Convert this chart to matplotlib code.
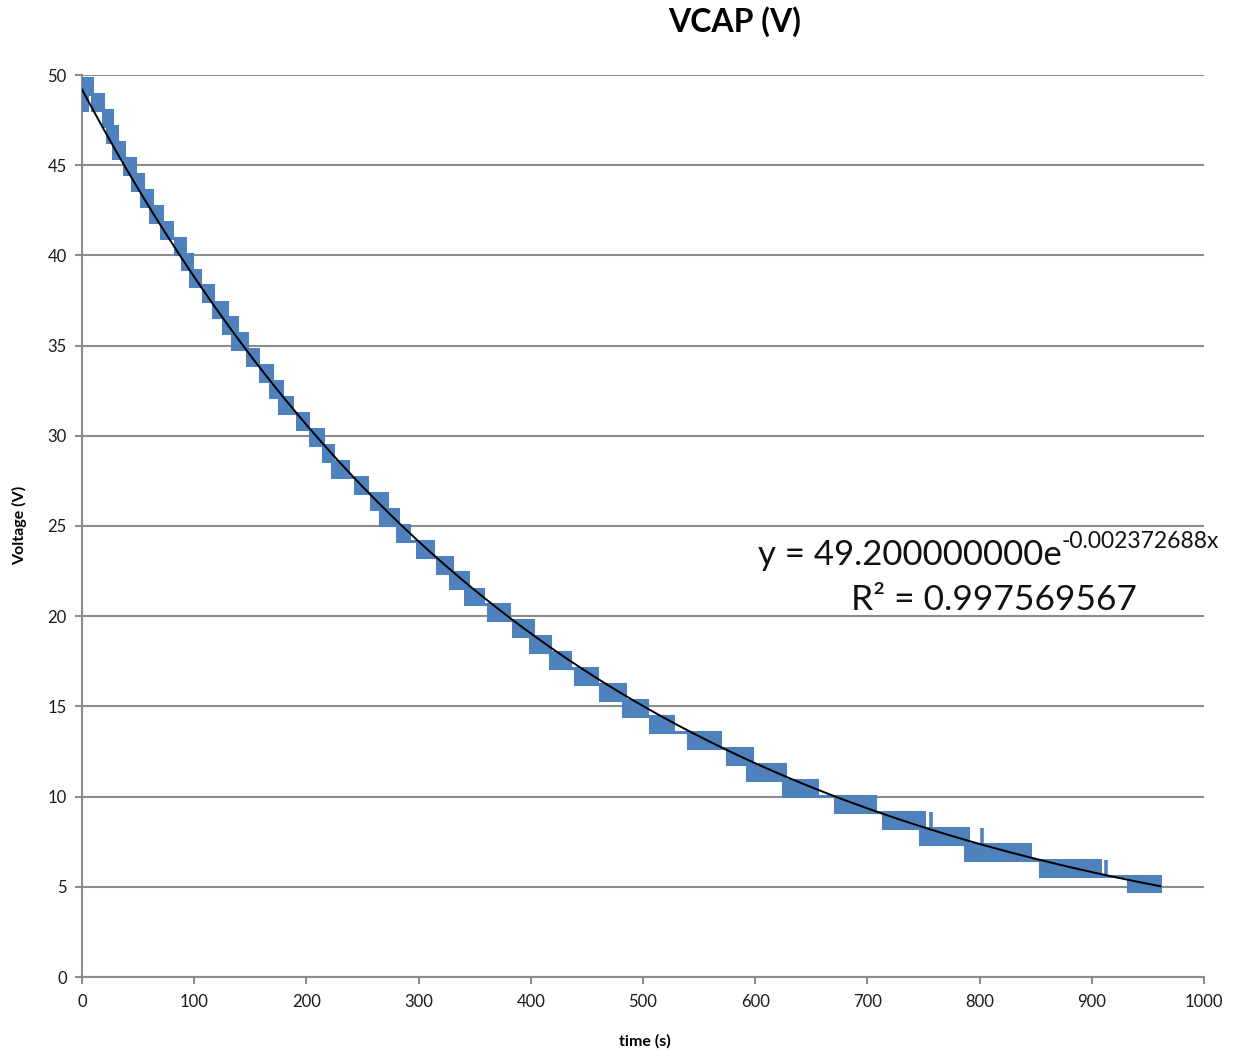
import numpy as np
import matplotlib
matplotlib.use("Agg")
import matplotlib.pyplot as plt

plt.rcParams['font.family'] = ['Lato', 'DejaVu Sans']

# 采样块：电容电压在相邻两个量化电平之间跳动 (开始时间, 结束时间, 下电平)
block_start = [0, 1, 9, 19, 22, 28, 37, 45, 53, 61, 70, 83, 89, 96, 108, 117, 126, 134,
               147, 159, 168, 176, 192, 203, 215, 223, 243, 258, 266, 281, 299, 316, 328,
               341, 362, 384, 399, 417, 439, 462, 482, 506, 540, 575, 593, 625, 671, 714,
               747, 787, 854, 932]
block_end = [4.5, 9, 19, 27, 31, 37, 47, 54, 62, 71, 80, 92, 98, 105, 117, 129, 138, 147,
             157, 169, 178, 187, 201, 215, 224, 237, 254, 272, 282, 291, 313, 330, 344,
             357, 381, 402, 417, 435, 459, 484, 504, 527, 569, 597, 627, 655, 707, 750,
             790, 845, 907, 961]
block_low = [48.06, 48.94, 48.06, 47.17, 46.29, 45.40, 44.52, 43.64, 42.75, 41.87, 40.98,
             40.10, 39.22, 38.33, 37.45, 36.56, 35.68, 34.80, 33.91, 33.03, 32.14, 31.26,
             30.38, 29.49, 28.61, 27.72, 26.84, 25.96, 25.07, 24.19, 23.30, 22.42, 21.54,
             20.65, 19.77, 18.88, 18.00, 17.12, 16.23, 15.35, 14.46, 13.58, 12.70, 11.81,
             10.93, 10.04, 9.16, 8.28, 7.39, 6.51, 5.62, 4.74]
lsb = 0.884  # 量化步长 (V)

# 单点毛刺
spike_t = [750, 757, 802, 913]
spike_lo = [7.39, 7.39, 7.39, 5.62]
spike_hi = [9.16, 9.16, 8.28, 6.51]

# Excel 指数趋势线系数
fit_a = 49.2
fit_b = -0.002372688
fit_r2 = 0.997569567
fit_tmax = 961

blue = '#4F81BD'
grid_c = '#8C8C8C'

fig = plt.figure(figsize=(12.41, 10.56), dpi=100)
ax = fig.add_axes([82 / 1241, 1 - 977 / 1056, (1204 - 82) / 1241, (977 - 75) / 1056])

# 数据块
widths = [e - s for s, e in zip(block_start, block_end)]
ax.bar(block_start, [lsb] * len(block_low), width=widths, bottom=block_low, align='edge',
       color=blue, edgecolor=blue, linewidth=2.2, zorder=3)

# 块之间的连接线
for i in range(len(block_start) - 1):
    if block_end[i] < block_start[i + 1]:
        lvl = max(block_low[i], block_low[i + 1])
        ax.plot([block_end[i], block_start[i + 1]], [lvl, lvl], color=blue, lw=2.2,
                solid_capstyle='butt', zorder=3)

ax.vlines(spike_t, spike_lo, spike_hi, color=blue, lw=2.6, zorder=3)

# 趋势线
tt = np.linspace(0, fit_tmax, 400)
ax.plot(tt, fit_a * np.exp(fit_b * tt), color='black', lw=1.4, zorder=4)

ax.set_xlim(0, 1000)
ax.set_ylim(0, 50)
ax.set_xticks(np.arange(0, 1001, 100))
ax.set_yticks(np.arange(0, 51, 5))
ax.yaxis.grid(True, color=grid_c, lw=1.5)
ax.set_axisbelow(True)
for s in ['top', 'right']:
    ax.spines[s].set_visible(False)
for s in ['left', 'bottom']:
    ax.spines[s].set_color(grid_c)
    ax.spines[s].set_linewidth(1.5)
ax.tick_params(axis='both', direction='out', length=5, width=1.5, color=grid_c,
               labelsize=12, labelcolor='#1a1a1a')
ax.tick_params(axis='x', pad=7)
ax.tick_params(axis='y', pad=6)

fig.text(735 / 1241, 1 - 22 / 1056, 'VCAP (V)', ha='center', va='center',
         fontsize=23, fontweight='bold')
fig.text(645 / 1241, 1 - 1041 / 1056, 'time (s)', ha='center', va='center',
         fontsize=11.5, fontweight='bold')
fig.text(20 / 1241, 1 - 525 / 1056, 'Voltage (V)', ha='center', va='center',
         rotation=90, fontsize=11.5, fontweight='bold')

# 趋势线公式
t1 = fig.text(758 / 1241, 1 - 555 / 1056, 'y = %.9fe' % fit_a, ha='left', va='center',
              fontsize=25, color='#111111')
ax.annotate('%.9fx' % fit_b, xy=(1, 0.6), xycoords=t1, ha='left', va='bottom',
            fontsize=16.5, color='#111111', annotation_clip=False)
fig.text(994 / 1241, 1 - 600 / 1056, 'R² = %.9f' % fit_r2, ha='center', va='center',
         fontsize=25.5, color='#111111')

fig.savefig('out.png', dpi=100)
